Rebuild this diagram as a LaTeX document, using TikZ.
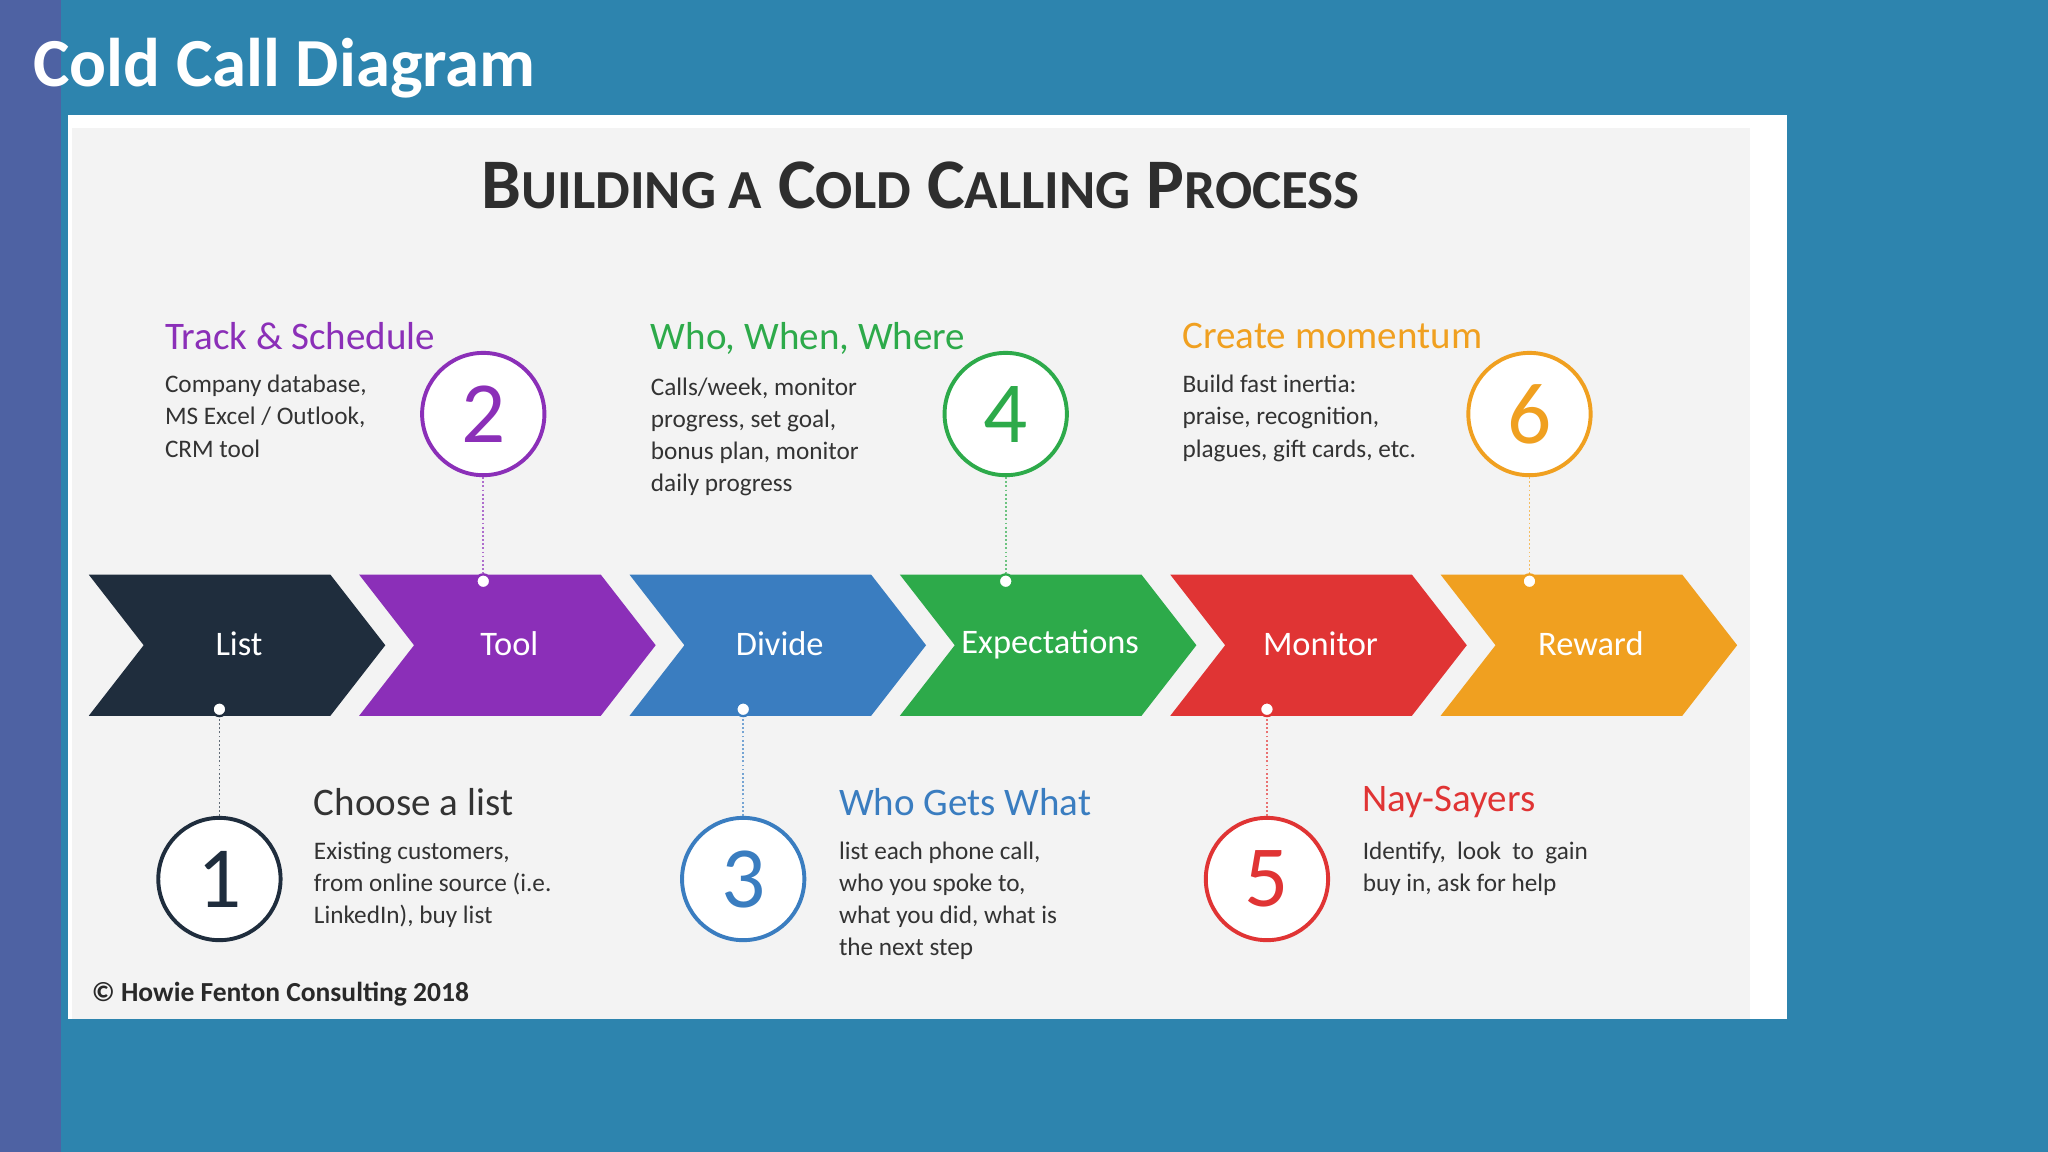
\documentclass[tikz,border=0pt]{standalone}
\usepackage{fontspec}
\setmainfont{Carlito}
\definecolor{bgblue}{HTML}{2D84AE}
\definecolor{strip}{HTML}{4E62A3}
\definecolor{cnavy}{HTML}{1F2D3D}
\definecolor{cpurple}{HTML}{8B2FB8}
\definecolor{cblue}{HTML}{3A7DC0}
\definecolor{cgreen}{HTML}{2DAA4A}
\definecolor{cred}{HTML}{E03434}
\definecolor{corange}{HTML}{F0A020}
\definecolor{txt}{HTML}{333333}
\definecolor{panel}{HTML}{F3F3F3}
\tikzset{
 chev/.style={fill=#1,draw=none},
 clab/.style={text=white,font=\fontsize{15}{17}\selectfont},
 num/.style={circle,draw=#1,line width=1.7pt,fill=white,minimum size=53.3pt,inner sep=0pt,text=#1,font=\fontsize{38}{40}\selectfont},
 dot/.style={circle,draw=#1,line width=1pt,fill=white,minimum size=6pt,inner sep=0pt},
 conn/.style={draw=#1!70,densely dotted,line width=0.8pt},
 head/.style={anchor=west,text=#1,font=\fontsize{17}{19}\selectfont,inner sep=0pt},
 body/.style={anchor=north west,align=left,text=txt,font=\fontsize{11}{14}\selectfont,inner sep=0pt},
}
\begin{document}
\begin{tikzpicture}[x=0.02cm,y=-0.02cm]
\useasboundingbox (0,0) rectangle (1568,882);
\fill[bgblue] (0,0) rectangle (1568,882);
\fill[strip] (0,0) rectangle (47,882);
\node[anchor=west,text=white,font=\bfseries\fontsize{30}{32}\selectfont,inner sep=0pt] (title) at (25,52) {Cold Call Diagram};
\fill[white] (52,88) rectangle (1368,780);
\fill[panel] (55,98) rectangle (1340,780);
\node[text=txt!90!black,font=\bfseries\fontsize{31}{33}\selectfont] (h) at (705,142) {B{\fontsize{24}{26}\selectfont UILDING A} C{\fontsize{24}{26}\selectfont OLD} C{\fontsize{24}{26}\selectfont ALLING} P{\fontsize{24}{26}\selectfont ROCESS}};
\foreach \i/\c/\l in {0/cnavy/List,1/cpurple/Tool,2/cblue/Divide,3/cgreen/Expectations,4/cred/Monitor,5/corange/Reward}{
 \pgfmathsetmacro\xo{68+207*\i}
 \fill[\c] (\xo,440) -- (\xo+185,440) -- (\xo+227,494) -- (\xo+185,548) -- (\xo,548) -- (\xo+42,494) -- cycle;
 \node[clab] (c\i) at (\xo+115,493) {\l};
}
% top circles
\foreach \n/\x/\c in {2/370/cpurple,4/770/cgreen,6/1171/corange}{
 \node[num=\c] (n\n) at (\x,317) {\n};
 \node[dot=\c] (d\n) at (\x,445) {};
 \draw[conn=\c] (n\n) -- (d\n);
}
\foreach \n/\x/\c in {1/168/cnavy,3/569/cblue,5/970/cred}{
 \node[num=\c] (n\n) at (\x,673) {\n};
 \node[dot=\c] (d\n) at (\x,543) {};
 \draw[conn=\c] (n\n) -- (d\n);
}
\node[head=cpurple] (t2) at (126,257) {Track \& Schedule};
\node[body] (b2) at (126,287) {Company database,\\MS Excel / Outlook,\\CRM tool};
\node[head=cgreen] (t4) at (498,259) {Who, When, Where};
\node[body] (b4) at (498,289) {Calls/week, monitor\\progress, set goal,\\bonus plan, monitor\\daily progress};
\node[head=corange] (t6) at (905,257) {Create momentum};
\node[body] (b6) at (905,287) {Build fast inertia:\\praise, recognition,\\plagues, gift cards, etc.};
\node[head=txt] (t1) at (240,614) {Choose a list};
\node[body] (b1) at (240,644) {Existing customers,\\from online source (i.e.\\LinkedIn), buy list};
\node[head=cblue] (t3) at (642,614) {Who Gets What};
\node[body] (b3) at (642,644) {list each phone call,\\who you spoke to,\\what you did, what is\\the next step};
\node[head=cred] (t5) at (1043,614) {Nay-Sayers};
\node[body] (b5) at (1043,644) {Identify,\ \ look\ \ to\ \ gain\\buy in, ask for help};
\node[anchor=west,inner sep=0pt,text=txt!80!black,font=\bfseries\fontsize{12}{14}\selectfont] (cp) at (70,761) {© Howie Fenton Consulting 2018};
\end{tikzpicture}
\end{document}
